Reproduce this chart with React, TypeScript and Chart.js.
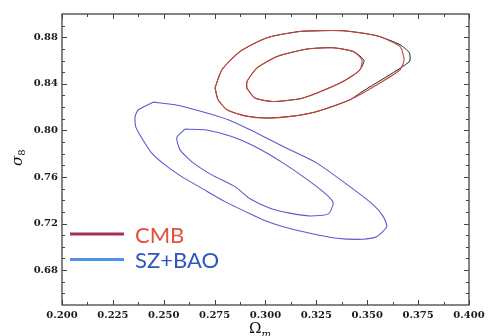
import React, { useEffect, useRef } from "react";
import { Chart, registerables } from "chart.js";

Chart.register(...registerables);

// Ω_m, σ8 contour vertices
const cmbOuter: [number, number][] = [
  [0.2752, 0.8366], [0.2767, 0.8263], [0.2811, 0.8177], [0.2899, 0.8125], [0.3007, 0.8106],
  [0.3145, 0.8125], [0.3253, 0.8162], [0.3415, 0.8263], [0.3548, 0.8392], [0.3661, 0.8521],
  [0.3681, 0.8607], [0.3661, 0.8719], [0.3548, 0.8813], [0.3381, 0.8856], [0.3170, 0.8850],
  [0.3007, 0.8796], [0.2875, 0.8678], [0.2786, 0.8521], [0.2752, 0.8366],
];
const cmbOuterAlt: [number, number][] = [
  [0.2752, 0.8366], [0.2767, 0.8263], [0.2811, 0.8177], [0.2899, 0.8125], [0.3007, 0.8106],
  [0.3145, 0.8125], [0.3253, 0.8162], [0.3415, 0.8263], [0.3474, 0.8332], [0.3707, 0.8590],
  [0.3707, 0.8667], [0.3661, 0.8736], [0.3548, 0.8813], [0.3381, 0.8856], [0.3170, 0.8850],
  [0.3007, 0.8796], [0.2875, 0.8678], [0.2786, 0.8521], [0.2752, 0.8366],
];
const cmbInner: [number, number][] = [
  [0.2908, 0.8363], [0.2948, 0.8278], [0.3037, 0.8248], [0.3170, 0.8272], [0.3253, 0.8321],
  [0.3381, 0.8420], [0.3464, 0.8521], [0.3474, 0.8607], [0.3430, 0.8678], [0.3332, 0.8710],
  [0.3204, 0.8699], [0.3057, 0.8635], [0.2958, 0.8536], [0.2909, 0.8420], [0.2908, 0.8363],
];
const cmbInnerAlt: [number, number][] = [
  [0.2908, 0.8363], [0.2948, 0.8278], [0.3037, 0.8248], [0.3170, 0.8272], [0.3253, 0.8321],
  [0.3381, 0.8420], [0.3459, 0.8510], [0.3484, 0.8600], [0.3435, 0.8675], [0.3332, 0.8710],
  [0.3204, 0.8699], [0.3057, 0.8635], [0.2958, 0.8536], [0.2909, 0.8420], [0.2908, 0.8363],
];
const szOuter: [number, number][] = [
  [0.2449, 0.8243], [0.2555, 0.8220], [0.2686, 0.8162], [0.2817, 0.8091], [0.2924, 0.8005],
  [0.3087, 0.7861], [0.3252, 0.7719], [0.3415, 0.7517], [0.3530, 0.7360], [0.3579, 0.7259],
  [0.3596, 0.7173], [0.3546, 0.7087], [0.3481, 0.7065], [0.3350, 0.7074], [0.3219, 0.7117],
  [0.3087, 0.7173], [0.2989, 0.7231], [0.2924, 0.7283], [0.2801, 0.7388], [0.2686, 0.7504],
  [0.2588, 0.7603], [0.2506, 0.7704], [0.2441, 0.7805], [0.2392, 0.7934], [0.2362, 0.8033],
  [0.2359, 0.8119], [0.2375, 0.8177], [0.2449, 0.8243],
];
const szInner: [number, number][] = [
  [0.2604, 0.8011], [0.2703, 0.8005], [0.2834, 0.7947], [0.2948, 0.7861], [0.3087, 0.7719],
  [0.3219, 0.7560], [0.3301, 0.7446], [0.3333, 0.7375], [0.3309, 0.7283], [0.3219, 0.7265],
  [0.3120, 0.7289], [0.3022, 0.7332], [0.2924, 0.7412], [0.2850, 0.7517], [0.2736, 0.7618],
  [0.2637, 0.7732], [0.2580, 0.7833], [0.2564, 0.7939], [0.2604, 0.8011],
];

const xTicks = [0.2, 0.225, 0.25, 0.275, 0.3, 0.325, 0.35, 0.375, 0.4];
const yTicks = [0.68, 0.72, 0.76, 0.8, 0.84, 0.88];
const xMinor = [0.2125, 0.2375, 0.2625, 0.2875, 0.3125, 0.3375, 0.3625, 0.3875];
const yMinor = [0.66, 0.67, 0.69, 0.7, 0.71, 0.73, 0.74, 0.75, 0.77, 0.78, 0.79, 0.81, 0.82, 0.83, 0.85, 0.86, 0.87, 0.89];
const legendLabels = ["CMB", "SZ+BAO"];

const toPts = (a: [number, number][]) => a.map(([x, y]) => ({ x, y }));

const framePlugin = {
  id: "frame",
  afterDraw(chart: any) {
    const { ctx, chartArea: a, scales } = chart;
    const xs = scales.x, ys = scales.y;
    ctx.save();
    ctx.strokeStyle = "#444";
    ctx.lineWidth = 1.3;
    ctx.strokeRect(a.left, a.top, a.right - a.left, a.bottom - a.top);
    ctx.lineWidth = 1;
    ctx.beginPath();
    const tx = (v: number, len: number) => {
      const p = Math.round(xs.getPixelForValue(v)) + 0.5;
      ctx.moveTo(p, a.bottom); ctx.lineTo(p, a.bottom - len);
      ctx.moveTo(p, a.top); ctx.lineTo(p, a.top + len);
    };
    const ty = (v: number, len: number) => {
      const p = Math.round(ys.getPixelForValue(v)) + 0.5;
      ctx.moveTo(a.left, p); ctx.lineTo(a.left + len, p);
      ctx.moveTo(a.right, p); ctx.lineTo(a.right - len, p);
    };
    xTicks.forEach((v) => tx(v, 5));
    xMinor.forEach((v) => tx(v, 3));
    yTicks.forEach((v) => ty(v, 5));
    yMinor.forEach((v) => ty(v, 3));
    ctx.stroke();

    // legend
    const legendColors = ["#a3304f", "#4f8fe6"];
    const textColors = ["#e2513c", "#2f55c0"];
    const ly = [234, 259.5];
    legendLabels.forEach((lab, i) => {
      ctx.strokeStyle = legendColors[i];
      ctx.lineWidth = 3;
      ctx.beginPath();
      ctx.moveTo(70, ly[i]);
      ctx.lineTo(124, ly[i]);
      ctx.stroke();
      ctx.fillStyle = textColors[i];
      ctx.font = "22px Lato";
      ctx.textBaseline = "middle";
      ctx.textAlign = "left";
      ctx.fillText(lab, 135, ly[i] + 1.5);
    });

    // y title: σ8 rotated
    ctx.save();
    ctx.translate(22, 160);
    ctx.rotate(-Math.PI / 2);
    ctx.fillStyle = "#111";
    ctx.textBaseline = "alphabetic";
    ctx.textAlign = "left";
    ctx.font = "italic 15px 'DejaVu Serif'";
    ctx.fillText("σ", -6, 0);
    const w = ctx.measureText("σ").width;
    ctx.font = "10px 'DejaVu Serif'";
    ctx.fillText("8", -6 + w, 3);
    ctx.restore();

    // x title: Ω_m
    ctx.fillStyle = "#111";
    ctx.textAlign = "left";
    ctx.textBaseline = "alphabetic";
    ctx.font = "15px 'DejaVu Serif'";
    ctx.fillText("Ω", 249, 333);
    const wo = ctx.measureText("Ω").width;
    ctx.font = "italic 10px 'DejaVu Serif'";
    ctx.fillText("m", 249 + wo, 337);
    ctx.restore();
  },
};

export default function App() {
  const ref = useRef<HTMLCanvasElement>(null);
  useEffect(() => {
    if (!ref.current) return;
    const line = (data: [number, number][], color: string, order: number, width = 1.1) => ({
      data: toPts(data),
      showLine: true,
      borderColor: color,
      borderWidth: width,
      pointRadius: 0,
      tension: 0.2,
      fill: false,
      order,
    });
    const chart = new Chart(ref.current, {
      type: "scatter",
      data: {
        datasets: [
          line(cmbOuterAlt, "#222", 3, 1),
          line(cmbInnerAlt, "#222", 3, 1),
          line(cmbOuter, "#c9443a", 1),
          line(cmbInner, "#c9443a", 1),
          line(szOuter, "#5a5ad2", 1),
          line(szInner, "#5a5ad2", 1),
        ] as any,
      },
      options: {
        animation: false,
        responsive: false,
        maintainAspectRatio: false,
        layout: { padding: { top: 14, right: 22, left: 0, bottom: 0 } },
        plugins: { legend: { display: false }, tooltip: { enabled: false } },
        scales: {
          x: {
            type: "linear",
            min: 0.2,
            max: 0.4,
            grid: { display: false, drawTicks: false },
            border: { display: false },
            afterBuildTicks: (s: any) => { s.ticks = xTicks.map((v) => ({ value: v })); },
            afterFit: (s: any) => { s.height = 31; },
            ticks: {
              padding: 4,
              maxRotation: 0,
              autoSkip: false,
              color: "#1a1a1a",
              font: { family: "'DejaVu Serif'", weight: "bold", size: 10 },
              callback: (v: any) => Number(v).toFixed(3),
            },
          },
          y: {
            type: "linear",
            min: 0.65,
            max: 0.9,
            grid: { display: false, drawTicks: false },
            border: { display: false },
            afterBuildTicks: (s: any) => { s.ticks = yTicks.map((v) => ({ value: v })); },
            afterFit: (s: any) => { s.width = 62; },
            ticks: {
              padding: 4,
              autoSkip: false,
              color: "#1a1a1a",
              font: { family: "'DejaVu Serif'", weight: "bold", size: 10 },
              callback: (v: any) => Number(v).toFixed(2),
            },
          },
        },
      } as any,
      plugins: [framePlugin],
    });
    return () => chart.destroy();
  }, []);
  return (
    <div style={{ position: "fixed", left: 0, top: 0, width: 491, height: 336, background: "#fff" }}>
      <canvas ref={ref} width={491} height={336} style={{ width: 491, height: 336 }} />
    </div>
  );
}
